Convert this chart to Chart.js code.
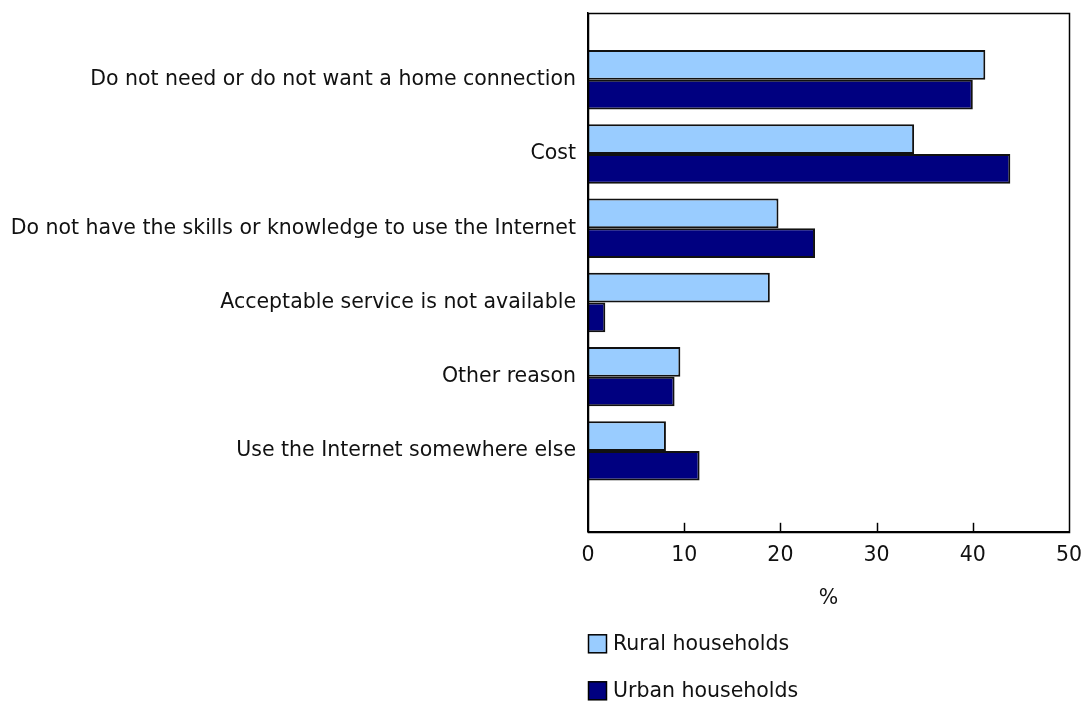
<!DOCTYPE html>
<html>
<head>
<meta charset="utf-8">
<script src="https://cdn.jsdelivr.net/npm/chart.js@4/dist/chart.umd.min.js"></script>
<style>
  html, body { margin: 0; padding: 0; background: #fff; }
  #wrap { width: 1082px; height: 703px; }
</style>
</head>
<body>
<div id="wrap"><canvas id="grafico"></canvas></div>
<script>
const categories = [
    'Do not need or do not want a home connection',
    'Cost',
    'Do not have the skills or knowledge to use the Internet',
    'Acceptable service is not available',
    'Other reason',
    'Use the Internet somewhere else'
];
const seriesNames = ['Rural households', 'Urban households'];
const rural = [41.3, 33.9, 19.8, 18.9, 9.6, 8.1];
const urban = [40.0, 43.9, 23.6, 1.8, 9.0, 11.6];
const xTicks = [0, 10, 20, 30, 40, 50];
const xTitle = '%';

const FONT = "'DejaVu Sans', Verdana, sans-serif";
const FONT_SIZE = 20.5;
Chart.defaults.font.family = FONT;
Chart.defaults.font.size = FONT_SIZE;
Chart.defaults.color = '#111';

// marco completo, marcas hacia dentro y leyenda vertical
const marcoPlugin = {
    id: 'marco',
    afterDraw(chart) {
        const ctx = chart.ctx;
        const a = chart.chartArea;
        const x = chart.scales.x;
        ctx.save();
        ctx.strokeStyle = '#000';
        ctx.lineWidth = 1.5;
        ctx.strokeRect(Math.round(a.left) + 0.5, Math.round(a.top) + 0.5,
            Math.round(a.right - a.left), Math.round(a.bottom - a.top));
        xTicks.slice(1, -1).forEach(v => {
            const px = Math.round(x.getPixelForValue(v)) + 0.5;
            ctx.beginPath();
            ctx.moveTo(px, a.bottom - 9);
            ctx.lineTo(px, a.bottom);
            ctx.stroke();
        });

        // leyenda
        const offsets = [112, 159];
        chart.data.datasets.forEach((ds, i) => {
            const cy = a.bottom + offsets[i];
            const size = 18;
            ctx.fillStyle = ds.backgroundColor;
            ctx.fillRect(a.left + 0.5, cy - size / 2, size, size);
            ctx.lineWidth = 1.5;
            ctx.strokeStyle = '#000';
            ctx.strokeRect(a.left + 0.5, cy - size / 2, size, size);
            ctx.fillStyle = '#111';
            ctx.font = FONT_SIZE + 'px ' + FONT;
            ctx.textBaseline = 'middle';
            ctx.textAlign = 'left';
            ctx.fillText(ds.label, a.left + size + 7, cy + 1);
        });
        ctx.restore();
    }
};

new Chart(document.getElementById('grafico'), {
    type: 'bar',
    data: {
        datasets: [{
            label: seriesNames[0],
            data: rural.map((v, i) => ({ x: v, y: i })),
            backgroundColor: '#99CCFF',
            borderColor: '#111',
            borderWidth: 2
        }, {
            label: seriesNames[1],
            data: urban.map((v, i) => ({ x: v, y: i })),
            backgroundColor: '#000080',
            borderColor: '#111',
            borderWidth: 2
        }]
    },
    options: {
        indexAxis: 'y',
        responsive: true,
        maintainAspectRatio: false,
        animation: false,
        categoryPercentage: 0.8,
        barPercentage: 1.0,
        layout: {
            padding: { top: 13, right: 13, bottom: 92, left: 0 }
        },
        plugins: {
            legend: { display: false },
            tooltip: { enabled: false }
        },
        scales: {
            y: {
                type: 'linear',
                reverse: true,
                offset: false,
                min: -0.9,
                max: 6.09,
                afterBuildTicks: scale => {
                    scale.ticks = categories.map((_, i) => ({ value: i }));
                },
                afterFit: scale => {
                    scale.width = 588;
                    scale.paddingTop = 0;
                    scale.paddingBottom = 0;
                },
                ticks: {
                    padding: 12,
                    autoSkip: false,
                    callback: v => categories[v] ?? ''
                },
                grid: { display: false, drawTicks: false, offset: false },
                border: { display: true, color: '#000', width: 1.5 }
            },
            x: {
                type: 'linear',
                min: 0,
                max: 50,
                afterBuildTicks: scale => {
                    scale.ticks = xTicks.map(v => ({ value: v }));
                },
                afterFit: scale => {
                    scale.paddingLeft = 0;
                    scale.paddingRight = 0;
                },
                ticks: {
                    padding: 12,
                    maxRotation: 0
                },
                grid: { display: false, drawTicks: false },
                border: { display: true, color: '#000', width: 1.5 },
                title: {
                    display: true,
                    text: xTitle,
                    padding: { top: 6, bottom: 0 }
                }
            }
        }
    },
    plugins: [marcoPlugin]
});
</script>
</body>
</html>
